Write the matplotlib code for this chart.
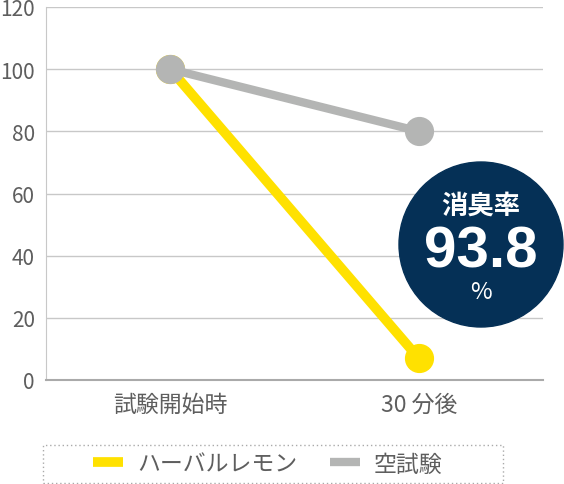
import matplotlib
matplotlib.use('Agg')
import matplotlib.pyplot as plt
from matplotlib.patches import Ellipse, Rectangle

plt.rcParams['font.family'] = ['Noto Sans CJK JP', 'DejaVu Sans']

# data
categories = ['試験開始時', '30 分後']
lemon = [100, 7]
blank = [100, 80]
series_names = ['ハーバルレモン', '空試験']
yticks = [0, 20, 40, 60, 80, 100, 120]
rate_label = '消臭率'
rate_value = '93.8'

text_col = '#5e5e5e'
yellow = '#ffe100'
grey = '#b4b5b4'
navy = '#053056'

fig = plt.figure(figsize=(5.64, 4.85), dpi=100)
ax = fig.add_axes([46/564, 104/485, 497/564, 373/485])

x = list(range(len(categories)))
ax.plot(x, lemon, color=yellow, lw=7, marker='o', ms=20, solid_capstyle='butt', zorder=3, label=series_names[0])
ax.plot(x, blank, color=grey, lw=6, marker='o', ms=20, solid_capstyle='butt', zorder=4, label=series_names[1])

ax.set_xlim(-0.5, 1.5)
ax.set_ylim(0, 120)
ax.set_yticks(yticks)
ax.set_xticks(x)
ax.set_xticklabels(categories)
ax.grid(axis='y', color='#c8c8c8', lw=1)
ax.set_axisbelow(True)
for s in ['top', 'right']:
    ax.spines[s].set_visible(False)
ax.spines['left'].set_color('#c8c8c8')
ax.spines['bottom'].set_color('#aaaaaa')
ax.spines['bottom'].set_linewidth(1.5)
ax.tick_params(axis='y', length=0, pad=8, labelsize=15, labelcolor=text_col)
ax.tick_params(axis='x', length=0, pad=9, labelsize=16.5, labelcolor=text_col)

# rate badge
fig.patches.append(Ellipse((481/564, 1 - 245.5/485), 164/564, 165/485,
                           transform=fig.transFigure, color=navy, zorder=10))
fig.text(481/564, 1 - 206/485, rate_label, color='white', fontsize=19, fontweight='bold',
         ha='center', va='center', zorder=11)
fig.text(481/564, 1 - 268/485, rate_value, color='white', fontsize=42, fontweight='bold',
         ha='center', va='baseline', zorder=11, family=['Liberation Sans', 'DejaVu Sans'])
fig.text(481/564, 1 - 299/485, '%', color='white', fontsize=17,
         ha='center', va='baseline', zorder=11)

# legend box
fig.patches.append(Rectangle((43/564, 1 - 484/485), 460/564, 38/485, transform=fig.transFigure,
                             fill=False, ec='#aaaaaa', lw=1, ls=(0, (1, 2))))
leg = fig.legend(loc='center', bbox_to_anchor=(268/564, 1 - 465/485), ncol=2, frameon=False,
                 fontsize=16.5, handlelength=1.3, handletextpad=0.6, columnspacing=1.45,
                 labelcolor=text_col)
for h in leg.legend_handles:
    h.set_marker('')

fig.savefig('out.png', dpi=100)
